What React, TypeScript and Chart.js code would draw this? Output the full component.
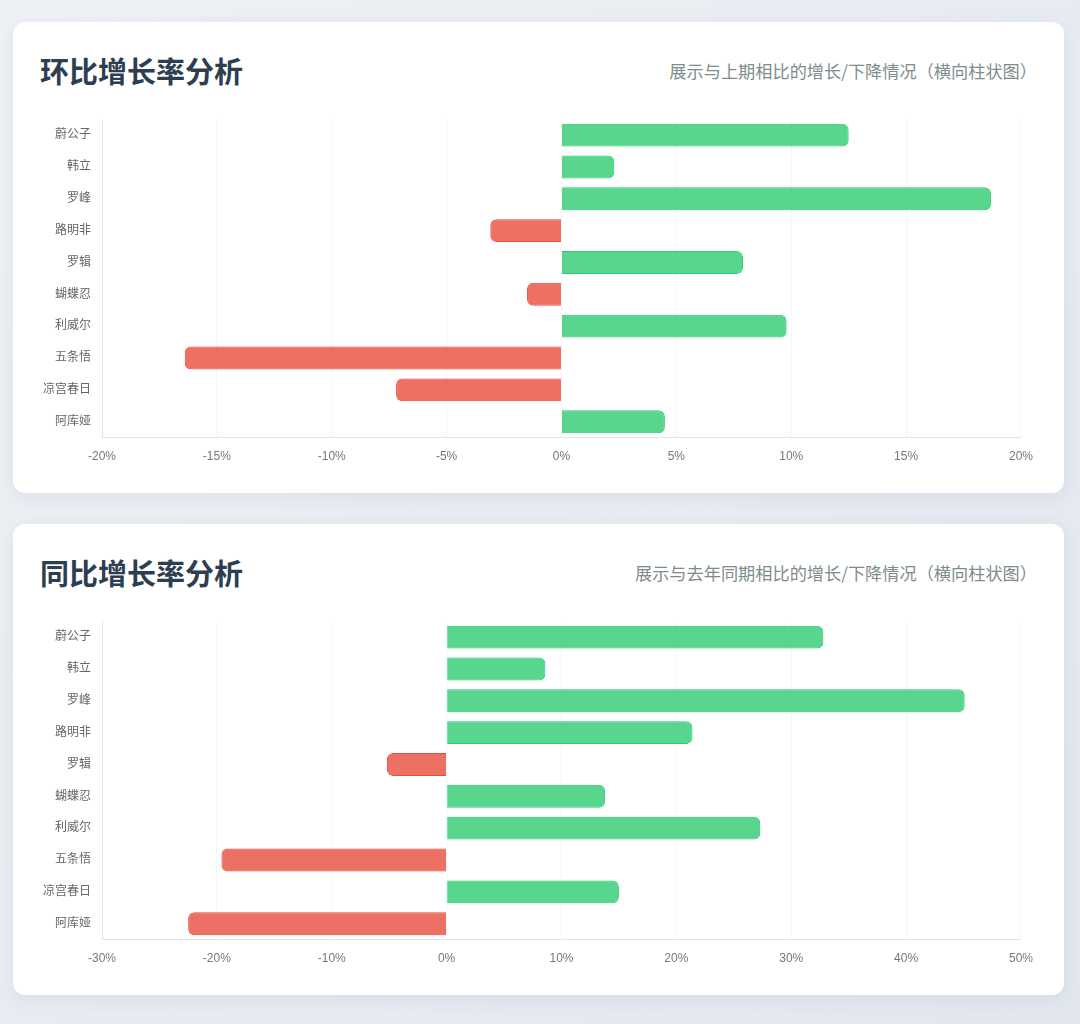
import { useEffect, useRef } from "react";
import { Chart, registerables } from "chart.js";

Chart.register(...registerables);

const names = ["蔚公子", "韩立", "罗峰", "路明非", "罗辑", "蝴蝶忍", "利威尔", "五条悟", "凉宫春日", "阿库娅"];

// 环比 (month over month), %
const momValues = [12.5, 2.3, 18.7, -3.1, 7.9, -1.5, 9.8, -16.4, -7.2, 4.5];
// 同比 (year over year), %
const yoyValues = [32.8, 8.6, 45.1, 21.4, -5.2, 13.8, 27.3, -19.6, 15.0, -22.5];

const momRange = [-20, 20, 5];
const yoyRange = [-30, 50, 10];

const GREEN = "rgba(46, 204, 113, 0.8)";
const GREEN_BORDER = "#2ecc71";
const RED = "rgba(231, 76, 60, 0.8)";
const RED_BORDER = "#e74c3c";

interface IProps {
  labels: string[];
  values: number[];
  range: number[];
}

const GrowthChart = ({ labels, values, range }: IProps) => {
  const canvasRef = useRef<HTMLCanvasElement>(null);

  useEffect(() => {
    const ctx = canvasRef.current!.getContext("2d")!;
    Chart.defaults.font.family = "'Liberation Sans', 'Noto Sans CJK SC', sans-serif";

    const chart = new Chart(ctx, {
      type: "bar",
      data: {
        labels,
        datasets: [
          {
            data: values,
            backgroundColor: values.map((v) => (v >= 0 ? GREEN : RED)),
            borderColor: values.map((v) => (v >= 0 ? GREEN_BORDER : RED_BORDER)),
            borderWidth: 1,
            borderRadius: 6,
            borderSkipped: "start",
          },
        ],
      },
      options: {
        indexAxis: "y",
        responsive: true,
        maintainAspectRatio: false,
        animation: false,
        plugins: {
          legend: { display: false },
          tooltip: { enabled: false },
        },
        scales: {
          x: {
            min: range[0],
            max: range[1],
            ticks: {
              stepSize: range[2],
              color: "#777",
              font: { size: 12 },
              padding: 4,
              callback: (v: any) => v + "%",
            },
            grid: { color: "rgba(0,0,0,0.04)", tickColor: "rgba(0,0,0,0)" },
            border: { color: "#e4e4e4" },
          },
          y: {
            ticks: { color: "#666", font: { size: 12 } },
            grid: { display: false },
            border: { color: "#e4e4e4" },
          },
        },
      },
    });

    return () => {
      chart.destroy();
    };
  }, [labels, values, range]);

  return <canvas ref={canvasRef} />;
};

const Card = ({ title, subtitle, children }: { title: string; subtitle: string; children: any }) => (
  <div
    style={{
      background: "#fff",
      borderRadius: 12,
      boxShadow: "0 4px 18px rgba(30, 50, 90, 0.07)",
      padding: "27px 27px 25px 27px",
      marginBottom: 31,
    }}
  >
    <div
      style={{
        display: "flex",
        justifyContent: "space-between",
        alignItems: "center",
        height: 42,
        marginBottom: 18,
      }}
    >
      <div
        style={{
          fontSize: 29,
          fontWeight: 700,
          color: "#2c3e50",
          fontFamily: "'Noto Sans CJK SC', sans-serif",
        }}
      >
        {title}
      </div>
      <div
        style={{
          fontSize: 17.2,
          color: "#7f8c8d",
          fontFamily: "'Noto Sans CJK SC', sans-serif",
        }}
      >
        {subtitle}
      </div>
    </div>
    <div style={{ position: "relative", height: 359 }}>{children}</div>
  </div>
);

export default function App() {
  useEffect(() => {
    document.body.style.margin = "0";
  }, []);

  return (
    <div
      style={{
        minHeight: 1024,
        boxSizing: "border-box",
        padding: "22px 16px 28px 13px",
        background: "linear-gradient(135deg, #eef1f5 0%, #e2e7ef 100%)",
      }}
    >
      <Card title="环比增长率分析" subtitle="展示与上期相比的增长/下降情况（横向柱状图）">
        <GrowthChart labels={names} values={momValues} range={momRange} />
      </Card>
      <Card title="同比增长率分析" subtitle="展示与去年同期相比的增长/下降情况（横向柱状图）">
        <GrowthChart labels={names} values={yoyValues} range={yoyRange} />
      </Card>
    </div>
  );
}
